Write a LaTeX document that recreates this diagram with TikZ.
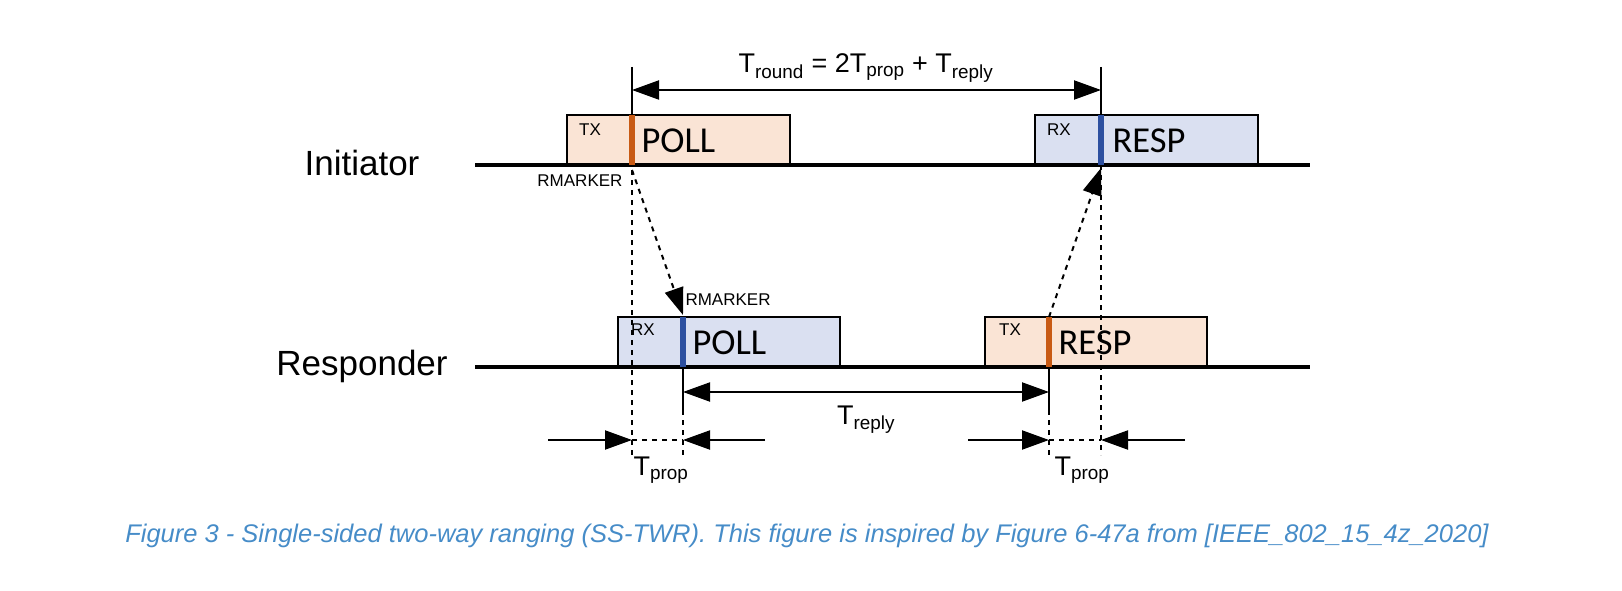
\documentclass[tikz,border=0pt]{standalone}
\usepackage{fontspec}
\setmainfont{Liberation Sans}
\newfontfamily\carlfont{Carlito}
\usetikzlibrary{arrows.meta}
\definecolor{txfill}{RGB}{250,228,213}
\definecolor{rxfill}{RGB}{218,224,241}
\definecolor{orng}{RGB}{200,90,20}
\definecolor{blu}{RGB}{45,80,160}
\definecolor{capblue}{RGB}{70,140,200}
\tikzset{
  base/.style={line width=3.6pt},
  txbox/.style={draw,line width=2.4pt,fill=txfill},
  rxbox/.style={draw,line width=2.4pt,fill=rxfill},
  mk/.style={line width=6pt},
  dotl/.style={line width=2pt,dash pattern=on 5pt off 5pt},
  arr/.style={line width=2pt,-{Triangle[length=27pt,width=19pt]}},
  darr/.style={line width=2pt,{Triangle[length=27pt,width=19pt]}-{Triangle[length=27pt,width=19pt]}},
  lbl/.style={font=\fontsize{35}{40}\selectfont},
  pk/.style={font=\carlfont\fontsize{36.5}{40}\selectfont,anchor=west},
  sm/.style={font=\fontsize{17}{19}\selectfont},
  tl/.style={font=\fontsize{27}{30}\selectfont},
}
\begin{document}
\begin{tikzpicture}[x=1pt,y=-1pt]
\useasboundingbox (0,0) rectangle (1622,591);
% boxes
\draw[txbox] (567,115) rectangle (790,165);
\draw[rxbox] (1035,115) rectangle (1258,165);
\draw[rxbox] (618,317) rectangle (840,367);
\draw[txbox] (985,317) rectangle (1207,367);
% baselines
\draw[base] (475,165) -- (1310,165);
\draw[base] (475,367) -- (1310,367);
% named points
\coordinate (itx) at (632,165);
\coordinate (itxt) at (632,115);
\coordinate (irx) at (1101,165);
\coordinate (irxt) at (1101,115);
\coordinate (rrx) at (683,367);
\coordinate (rrxt) at (683,317);
\coordinate (rtx) at (1049,367);
\coordinate (rtxt) at (1049,317);
% markers
\draw[mk,orng] (itx) -- (itxt);
\draw[mk,blu] (irx) -- (irxt);
\draw[mk,blu] (rrx) -- (rrxt);
\draw[mk,orng] (rtx) -- (rtxt);
% labels
\node[lbl] (ini) at (362,163) {Initiator};
\node[lbl] (res) at (362,366) {Responder};
\node[sm] (t1) at (590,130) {TX};
\node[pk] (p1) at (638,141) {POLL};
\node[sm] (r1) at (1059,130) {RX};
\node[pk] (p2) at (1109,141) {RESP};
\node[sm] (r2) at (643,330) {RX};
\node[pk] (p3) at (689,343) {POLL};
\node[sm] (t2) at (1010,330) {TX};
\node[pk] (p4) at (1055,343) {RESP};
\node[sm,anchor=east] (rm1) at (626,181) {RMARKER};
\node[sm,anchor=west] (rm2) at (682,300) {RMARKER};
% Tround
\coordinate (a1) at (632,67); \coordinate (a2) at (1101,67);
\draw[line width=2pt] (a1) -- (itxt);
\draw[line width=2pt] (a2) -- (irxt);
\coordinate (b1) at (632,90); \coordinate (b2) at (1101,90);
\draw[darr] (b1) -- (b2);
\node[tl] (tr) at (866,68) {T\textsubscript{round} = 2T\textsubscript{prop} + T\textsubscript{reply}};
% signal arrows
\coordinate (s1) at (632,170); \coordinate (s2) at (683,315);
\draw[dotl,-{Triangle[length=27pt,width=19pt]}] (s1) -- (s2);
\coordinate (s3) at (1101,168);
\draw[dotl,-{Triangle[length=27pt,width=19pt]}] (rtxt) -- (s3);
% verticals
\coordinate (v1) at (632,455); \coordinate (v2) at (683,455);
\coordinate (v3) at (1049,455); \coordinate (v4) at (1101,455);
\coordinate (v2s) at (683,410); \coordinate (v3s) at (1049,410);
\draw[dotl] (s1) -- (v1);
\draw[dotl] (irx) -- (v4);
\draw[line width=2pt] (rrx) -- (v2s);
\draw[dotl] (v2s) -- (v2);
\draw[line width=2pt] (rtx) -- (v3s);
\draw[dotl] (v3s) -- (v3);
% Treply
\coordinate (c1) at (683,392); \coordinate (c2) at (1049,392);
\draw[darr] (c1) -- (c2);
\node[tl] (trp) at (866,420) {T\textsubscript{reply}};
% Tprop
\coordinate (d1) at (548,440); \coordinate (d2) at (632,440);
\coordinate (d3) at (683,440); \coordinate (d4) at (765,440);
\draw[arr] (d1) -- (d2);
\draw[arr] (d4) -- (d3);
\draw[dotl] (d2) -- (d3);
\coordinate (e1) at (968,440); \coordinate (e2) at (1049,440);
\coordinate (e3) at (1101,440); \coordinate (e4) at (1185,440);
\draw[arr] (e1) -- (e2);
\draw[arr] (e4) -- (e3);
\draw[dotl] (e2) -- (e3);
\node[tl] (tp1) at (661,470) {T\textsubscript{prop}};
\node[tl] (tp2) at (1082,470) {T\textsubscript{prop}};
% caption
\node[font=\itshape\fontsize{25.5}{30}\selectfont,text=capblue] (cap) at (807,536) {Figure 3 - Single-sided two-way ranging (SS-TWR). This figure is inspired by Figure 6-47a from [IEEE\_802\_15\_4z\_2020]};
\end{tikzpicture}
\end{document}
